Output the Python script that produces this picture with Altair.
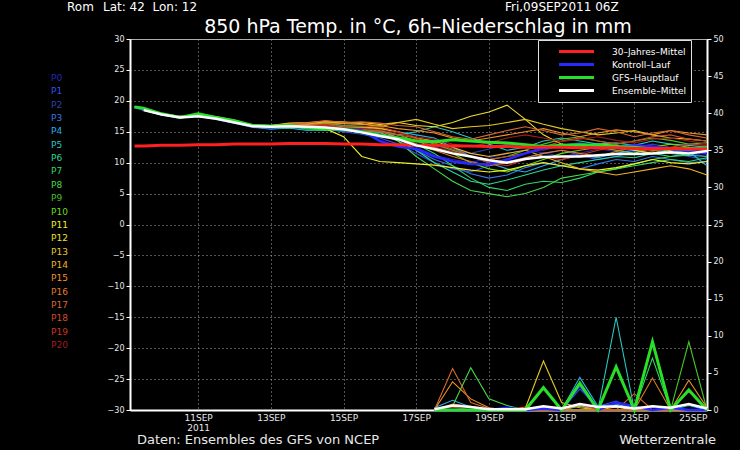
import altair as alt
import pandas as pd

FONT = "DejaVu Sans"

# ---------------- data ----------------
times = ["2011-09-09T06:00:00Z"] + [
    t.strftime("%Y-%m-%dT%H:%M:%SZ")
    for t in pd.date_range("2011-09-09 12:00", "2011-09-25 00:00", freq="12h")
]

member_names = [f"P{i}" for i in range(21)]
member_colors = [
    "#2828b8", "#3050f0", "#2840b0", "#3878e8", "#28b0e8", "#28c8c0", "#28d898",
    "#30d868", "#48d848", "#48c028", "#68d818", "#f0f020", "#f0e028", "#e8c820",
    "#f0b420", "#f09428", "#e07c28", "#d86830", "#d04c28", "#c83420", "#a01c1c",
]

# 850 hPa temperature of each ensemble member (degC, 12-hourly)
member_temp = [
    [19.0, 18.5, 17.8, 17.3, 17.5, 17.1, 16.4, 15.8, 15.6, 15.9, 15.6, 15.7, 15.2, 15.0,
     14.5, 13.8, 12.5, 11.2, 10.5, 10.0, 10.8, 11.5, 12.0, 11.6, 11.0, 11.5, 12.2, 11.8, 12.0, 12.5, 12.0, 11.5, 11.0],
    [19.0, 18.6, 17.7, 17.4, 17.6, 17.3, 16.7, 16.0, 15.9, 15.8, 15.5, 15.4, 15.0, 14.6,
     14.0, 13.0, 11.5, 10.0, 9.0, 8.5, 9.5, 10.2, 10.8, 11.5, 12.0, 11.2, 10.5, 11.0, 11.8, 12.3, 11.5, 11.0, 10.5],
    [19.0, 18.6, 17.9, 17.5, 17.7, 17.2, 16.5, 16.0, 16.1, 16.2, 16.0, 15.8, 15.9, 15.6,
     15.0, 14.2, 13.5, 12.8, 12.0, 11.5, 12.2, 13.0, 12.5, 12.0, 12.8, 13.2, 12.6, 12.0, 12.4, 13.0, 12.5, 12.0, 11.8],
    [19.0, 18.5, 17.8, 17.4, 17.5, 17.0, 16.4, 15.7, 15.4, 15.6, 15.2, 15.4, 15.1, 15.3,
     14.8, 14.0, 12.0, 10.5, 9.5, 8.2, 7.5, 8.0, 9.2, 10.0, 9.5, 9.0, 9.8, 10.5, 10.2, 11.0, 10.5, 10.0, 10.2],
    [19.0, 18.7, 17.8, 17.3, 17.6, 17.2, 16.6, 16.0, 15.8, 16.1, 16.2, 16.3, 16.0, 15.8,
     15.5, 15.0, 14.5, 14.0, 12.5, 11.0, 10.0, 9.0, 8.5, 9.5, 10.5, 11.2, 10.8, 11.5, 12.0, 11.5, 12.2, 11.8, 9.5],
    [19.0, 18.6, 17.9, 17.4, 17.7, 17.3, 16.7, 15.9, 15.7, 15.9, 15.5, 15.6, 15.4, 15.5,
     15.2, 14.5, 15.0, 15.8, 15.0, 14.0, 13.0, 12.0, 12.5, 13.5, 14.0, 13.5, 13.0, 13.2, 12.8, 13.5, 13.0, 12.8, 12.5],
    [19.0, 18.5, 17.7, 17.3, 17.6, 17.2, 16.5, 15.8, 15.5, 15.6, 15.3, 15.2, 15.5, 15.0,
     14.6, 13.5, 12.0, 10.0, 8.5, 7.0, 6.5, 7.2, 8.0, 8.8, 9.5, 10.0, 10.5, 11.0, 10.8, 11.5, 11.0, 11.2, 11.0],
    [19.0, 18.6, 17.8, 17.5, 17.8, 17.4, 16.8, 16.1, 15.9, 16.2, 15.8, 15.9, 15.6, 15.7,
     15.3, 14.0, 13.0, 11.5, 9.5, 7.5, 6.0, 5.5, 6.5, 7.0, 6.8, 7.5, 8.5, 9.0, 9.5, 10.0, 10.5, 10.2, 10.8],
    [19.0, 18.6, 17.8, 17.4, 17.5, 17.1, 16.5, 15.8, 15.6, 15.8, 15.4, 15.6, 15.3, 15.2,
     14.9, 13.5, 11.0, 9.0, 7.0, 5.5, 5.0, 4.5, 5.0, 6.0, 7.5, 8.0, 8.5, 9.0, 9.8, 10.5, 11.0, 11.5, 11.8],
    [19.0, 18.7, 17.9, 17.5, 17.8, 17.3, 16.7, 16.1, 16.0, 16.3, 16.1, 16.4, 16.0, 15.9,
     15.6, 15.0, 14.0, 13.0, 12.0, 11.0, 10.5, 11.0, 12.0, 13.0, 13.8, 14.2, 13.5, 13.0, 13.5, 14.0, 13.6, 13.0, 13.2],
    [19.0, 18.6, 17.8, 17.4, 17.7, 17.4, 16.9, 16.0, 15.8, 16.1, 15.9, 15.8, 15.5, 15.4,
     15.0, 14.5, 13.5, 12.5, 11.5, 10.0, 9.0, 8.5, 9.5, 10.5, 11.5, 12.0, 12.5, 12.0, 11.5, 12.5, 13.0, 12.5, 12.0],
    [19.0, 18.5, 17.7, 17.3, 17.5, 17.1, 16.5, 15.8, 15.7, 15.9, 15.6, 15.5, 14.2, 11.0,
     10.2, 10.0, 9.8, 9.6, 9.2, 8.8, 8.5, 8.8, 9.5, 10.0, 9.5, 9.0, 8.8, 9.2, 9.8, 10.5, 10.0, 9.8, 10.2],
    [19.0, 18.6, 17.9, 17.5, 17.7, 17.2, 16.6, 16.0, 15.9, 16.2, 16.3, 16.6, 16.4, 16.5,
     16.2, 16.5, 16.0, 15.8, 16.5, 17.5, 18.2, 19.3, 17.0, 14.5, 13.0, 12.5, 13.0, 12.8, 12.0, 11.5, 12.0, 12.5, 12.0],
    [19.0, 18.6, 17.8, 17.4, 17.6, 17.3, 16.6, 16.1, 16.0, 16.4, 16.5, 16.7, 16.6, 16.3,
     15.8, 16.5, 17.0, 16.2, 15.5, 15.8, 16.0, 16.5, 17.0, 16.2, 15.5, 15.0, 14.5, 14.8, 15.2, 14.5, 14.0, 13.8, 13.5],
    [19.0, 18.5, 17.8, 17.4, 17.6, 17.2, 16.7, 16.0, 15.9, 16.1, 16.0, 16.2, 15.8, 15.8,
     15.5, 15.0, 14.0, 13.5, 12.5, 11.5, 11.0, 11.5, 12.0, 11.0, 10.0, 9.0, 8.5, 8.0, 8.5, 9.0, 9.5, 9.0, 8.0],
    [19.0, 18.6, 17.9, 17.5, 17.7, 17.3, 16.6, 16.0, 15.9, 16.3, 16.2, 16.5, 16.3, 16.2,
     16.0, 15.5, 15.2, 14.8, 14.0, 13.5, 14.0, 14.5, 15.0, 15.5, 14.8, 14.2, 14.8, 15.3, 15.0, 14.5, 15.2, 14.8, 14.5],
    [19.0, 18.6, 17.8, 17.3, 17.5, 17.1, 16.5, 15.9, 15.8, 16.0, 15.7, 15.8, 15.5, 15.4,
     15.2, 14.0, 13.0, 12.0, 11.0, 10.2, 9.5, 10.0, 10.8, 11.5, 12.0, 11.5, 11.0, 11.8, 12.5, 12.0, 11.5, 12.0, 12.5],
    [19.0, 18.7, 17.8, 17.4, 17.7, 17.3, 16.7, 16.0, 15.9, 16.2, 16.4, 16.8, 16.5, 16.6,
     16.4, 16.0, 15.8, 15.0, 14.2, 13.8, 14.5, 15.2, 15.8, 15.2, 14.5, 14.8, 15.5, 15.0, 14.2, 14.8, 15.2, 14.5, 14.0],
    [19.0, 18.6, 17.8, 17.4, 17.6, 17.2, 16.6, 15.9, 15.8, 16.0, 15.8, 16.0, 15.6, 15.3,
     15.0, 14.5, 14.0, 13.2, 12.2, 11.0, 10.5, 11.0, 11.5, 12.5, 13.5, 14.0, 13.5, 13.0, 13.5, 14.2, 14.5, 13.8, 13.5],
    [19.0, 18.6, 17.9, 17.5, 17.6, 17.2, 16.6, 15.9, 15.8, 16.1, 16.0, 16.2, 15.9, 15.9,
     15.8, 15.0, 13.8, 12.5, 11.8, 11.0, 10.0, 9.5, 10.5, 11.0, 10.5, 11.2, 12.0, 12.5, 12.2, 11.8, 12.5, 13.0, 12.8],
    [19.0, 18.5, 17.8, 17.4, 17.6, 17.2, 16.6, 15.9, 15.8, 16.0, 15.8, 15.9, 15.6, 15.5,
     15.3, 14.8, 14.2, 13.8, 13.0, 12.6, 13.2, 14.0, 14.5, 14.0, 13.4, 13.8, 14.2, 13.6, 13.2, 13.8, 14.0, 13.5, 13.0],
]

series_names = ["30–Jahres–Mittel", "Kontroll–Lauf", "GFS–Hauptlauf", "Ensemble–Mittel"]
series_colors = ["#ff2020", "#2828ff", "#28e028", "#ffffff"]

climate_temp = [12.7, 12.7, 12.8, 12.8, 12.9, 12.9, 13.0, 13.0, 13.0, 13.1, 13.1, 13.1, 13.0, 13.0,
                12.9, 12.9, 12.8, 12.8, 12.7, 12.7, 12.6, 12.6, 12.5, 12.5, 12.5, 12.4, 12.4, 12.4,
                12.3, 12.3, 12.3, 12.2, 12.2]
control_temp = [19.0, 18.6, 17.8, 17.4, 17.6, 17.2, 16.6, 15.9, 15.7, 15.9, 15.5, 15.6, 15.4, 15.2,
                13.5, 12.6, 12.2, 11.0, 10.2, 9.8, 9.7, 10.5, 11.5, 12.3, 12.8, 12.9, 12.7, 12.5,
                12.8, 12.6, 12.2, 11.8, 11.5]
gfs_temp = [19.0, 18.8, 17.9, 17.3, 17.9, 17.3, 16.8, 16.0, 15.9, 16.0, 15.6, 15.5, 15.4, 15.0,
            14.4, 14.0, 13.5, 13.4, 13.7, 13.5, 13.3, 13.2, 12.9, 12.6, 12.8, 12.9, 12.8, 12.6,
            12.5, 12.2, 12.3, 12.2, 12.4]
mean_temp = [None, 18.5, 17.8, 17.3, 17.5, 17.1, 16.5, 15.9, 15.8, 15.9, 15.8, 15.7, 15.4, 14.9,
             14.3, 13.8, 12.8, 12.2, 11.5, 11.0, 10.4, 10.0, 10.6, 10.9, 11.0, 11.0, 11.2, 11.4,
             11.4, 11.5, 11.7, 11.5, 11.9]

# 6h precipitation (mm), from 17SEP 12Z on
precip_times = times[17:]
precip_members = {
    "P1": [0, 0, 0, 0, 0, 0, 0, 0, 2.8, 0.5, 1.2, 0, 0, 0, 0, 0],
    "P4": [0.3, 1.3, 0.4, 0, 0, 0, 0.3, 0, 4.4, 0.5, 0.8, 0.2, 0, 0, 0.6, 0],
    "P5": [0, 0, 0, 0, 0, 0, 0, 0, 0.5, 0, 12.5, 0, 0, 0, 0, 0],
    "P7": [0, 0, 0, 0, 0, 0, 0.5, 0, 0, 0, 0, 0, 7.0, 0, 0, 0],
    "P8": [0, 0.5, 5.7, 1.5, 0.6, 0, 0.2, 0, 0, 0, 0, 0, 0, 0, 0, 0],
    "P9": [0, 0, 0, 0, 0, 0, 0, 0, 0, 0, 0, 0, 0, 0, 9.2, 0],
    "P13": [0, 0, 0, 0, 0, 0.2, 6.6, 1.0, 0.3, 0, 0.4, 0, 0, 0, 0, 0],
    "P15": [0, 3.8, 1.5, 0.3, 0, 0, 0, 0, 0.6, 0, 0, 0, 0, 0, 4.0, 0.3],
    "P16": [0, 0.8, 0.5, 0, 0, 0.4, 0, 0, 0, 0, 0, 0, 4.3, 0, 0, 0],
    "P17": [0, 5.6, 1.0, 0.2, 0, 0, 0, 0, 0, 0, 0, 2.2, 0, 0, 0, 0],
    "P18": [0, 0.4, 0, 0, 0, 0, 0, 0, 0.8, 0, 0, 0, 0, 0, 2.5, 0],
}
control_precip = [0, 0, 0, 0, 0.3, 0, 0.2, 0, 3.3, 0, 1.0, 0.5, 0, 0.3, 0, 0]
gfs_precip = [0, 0, 0, 0, 0, 0, 3.0, 0, 3.6, 0, 5.8, 0, 9.2, 0, 2.7, 0]
mean_precip = [0.1, 0.6, 0.4, 0.1, 0.1, 0.1, 0.5, 0.2, 0.8, 0.4, 0.5, 0.2, 0.5, 0.3, 0.8, 0.2]

temp_ticks = list(range(-30, 31, 5))
precip_ticks = list(range(0, 51, 5))
date_ticks = ["2011-09-11", "2011-09-13", "2011-09-15", "2011-09-17",
              "2011-09-19", "2011-09-21", "2011-09-23", "2011-09-25"]
year_label = "2011"

NB = "\u00a0"
header_station = "Rom"
header_pos = f"Lat: 42{NB}{NB}Lon: 12"
header_right = "Fri,09SEP2011 06Z"
main_title = "850 hPa Temp. in °C, 6h–Niederschlag in mm"
footer_left = "Daten: Ensembles des GFS von NCEP"
footer_right = "Wetterzentrale"

# ---------------- tables ----------------
mrows = []
for name, col, vals in zip(member_names, member_colors, member_temp):
    for t, v in zip(times, vals):
        mrows.append({"time": t, "value": v, "member": name, "color": col})
members_df = pd.DataFrame(mrows)

srows = []
for name, vals in zip(series_names, [climate_temp, control_temp, gfs_temp, mean_temp]):
    for t, v in zip(times, vals):
        if v is not None:
            srows.append({"time": t, "value": v, "series": name})
series_df = pd.DataFrame(srows)

prows = []
color_of = dict(zip(member_names, member_colors))
for name, vals in precip_members.items():
    for t, v in zip(precip_times, vals):
        prows.append({"time": t, "value": v, "member": name, "color": color_of[name]})
pmembers_df = pd.DataFrame(prows)

psrows = []
for name, vals in zip(series_names[1:], [control_precip, gfs_precip, mean_precip]):
    for t, v in zip(precip_times, vals):
        psrows.append({"time": t, "value": v, "series": name})
pseries_df = pd.DataFrame(psrows)

plab_df = pd.DataFrame({"member": member_names, "color": member_colors})

# ---------------- encodings ----------------
def ms(s):
    return int(pd.Timestamp(s, tz="UTC").value // 10**6)

t_start = ms("2011-09-09 03:00")
t_end = ms("2011-09-25 00:00")
tick_vals = [ms(d) for d in date_ticks]
label_expr = (f"(utcdate(datum.value) == 11) ? ['11SEP', '{year_label}'] : "
              "utcFormat(datum.value, '%d') + upper(utcFormat(datum.value, '%b'))")

GRID = "#a8a8a8"
x_enc = alt.X(
    "time:T", title=None,
    scale=alt.Scale(type="utc", domain=[t_start, t_end]),
    axis=alt.Axis(values=tick_vals, labelExpr=label_expr, grid=True, gridDash=[1, 3],
                  gridColor=GRID, gridOpacity=1, ticks=False, labelPadding=3,
                  domainColor="white", domainWidth=2, labelFontSize=9,
                  labelColor="#e8e8e8", labelFont=FONT, labelAngle=0,
                  labelLineHeight=10),
)
y_temp = alt.Y(
    "value:Q", title=None,
    scale=alt.Scale(domain=[-30, 30], nice=False, zero=False),
    axis=alt.Axis(values=temp_ticks, grid=True, gridDash=[1, 3], gridColor=GRID, gridOpacity=1,
                  tickSize=4, tickColor="white", domainColor="white", domainWidth=2,
                  labelFontSize=8, labelColor="#e8e8e8", labelFont=FONT, labelPadding=2),
)
y_precip = alt.Y(
    "value:Q", title=None,
    scale=alt.Scale(domain=[0, 50], nice=False),
    axis=alt.Axis(orient="right", values=precip_ticks, grid=False, tickSize=4,
                  tickColor="white", domainColor="white", domainWidth=2,
                  labelFontSize=8, labelColor="#e8e8e8", labelFont=FONT, labelPadding=2),
)

color_scale = alt.Scale(domain=series_names, range=series_colors)
legend = alt.Legend(
    title=None, orient="none", legendX=408, legendY=1, direction="vertical",
    fillColor="black", strokeColor="#e0e0e0", padding=5,
    symbolType="M-3.5,0L3.5,0", symbolSize=100, symbolStrokeWidth=3,
    symbolOffset=27,
    labelColor="white", labelFontSize=9, labelFont=FONT, labelOffset=29,
    rowPadding=-2,
)
col_enc = alt.Color("series:N", scale=color_scale, legend=legend, sort=series_names)

# ---------------- layers ----------------
members_line = alt.Chart(members_df).mark_line(strokeWidth=1.1).encode(
    x=x_enc, y=y_temp, detail="member:N",
    stroke=alt.Stroke("color:N", scale=None),
)

def main_line(name, width):
    return alt.Chart(series_df).transform_filter(
        alt.datum.series == name
    ).mark_line(strokeWidth=width).encode(x=x_enc, y=y_temp, color=col_enc)

temp_group = alt.layer(
    members_line,
    main_line(series_names[1], 2.5),
    main_line(series_names[2], 3),
    main_line(series_names[0], 3),
    main_line(series_names[3], 2.5),
)

pmembers_line = alt.Chart(pmembers_df).mark_line(strokeWidth=1.1).encode(
    x=x_enc, y=y_precip, detail="member:N",
    stroke=alt.Stroke("color:N", scale=None),
)

def precip_line(name, width, color):
    return alt.Chart(pseries_df).transform_filter(
        alt.datum.series == name
    ).mark_line(strokeWidth=width, color=color).encode(x=x_enc, y=y_precip)

precip_group = alt.layer(
    pmembers_line,
    precip_line(series_names[1], 2.5, series_colors[1]),
    precip_line(series_names[2], 3, series_colors[2]),
    precip_line(series_names[3], 2.5, series_colors[3]),
)

plabels = alt.Chart(plab_df).mark_text(
    align="left", baseline="middle", fontSize=9, font=FONT
).encode(
    x=alt.value(-79),
    y=alt.Y("member:N", sort=member_names, axis=None,
            scale=alt.Scale(type="point", range=[39, 306], padding=0)),
    text="member:N",
    fill=alt.Fill("color:N", scale=None),
)

one = pd.DataFrame({"k": [0]})

def note(text, x, y, size, align="left", color="white"):
    return alt.Chart(one).mark_text(
        text=text, align=align, baseline="middle", fontSize=size, font=FONT, color=color
    ).encode(x=alt.value(x), y=alt.value(y))

notes = [
    note(header_station, -63, -32, 12),
    note(header_pos, -27, -32, 12),
    note(header_right, 375, -32, 12),
    note(main_title, 288, -12, 19, align="center"),
    note(footer_left, 7, 401, 13, color="#e8e8e8"),
    note(footer_right, 586, 401, 13, align="right", color="#e8e8e8"),
]

chart = alt.layer(temp_group, precip_group, plabels, *notes).resolve_scale(
    y="independent", color="independent", stroke="independent"
).properties(
    width=577, height=371,
    autosize=alt.AutoSizeParams(type="none"),
    padding={"left": 130, "top": 39, "right": 33, "bottom": 40},
    background="black",
).configure_view(stroke="#b0b0b0", strokeWidth=1)

chart.save("out.html", embed_options={"renderer": "svg", "actions": False})
